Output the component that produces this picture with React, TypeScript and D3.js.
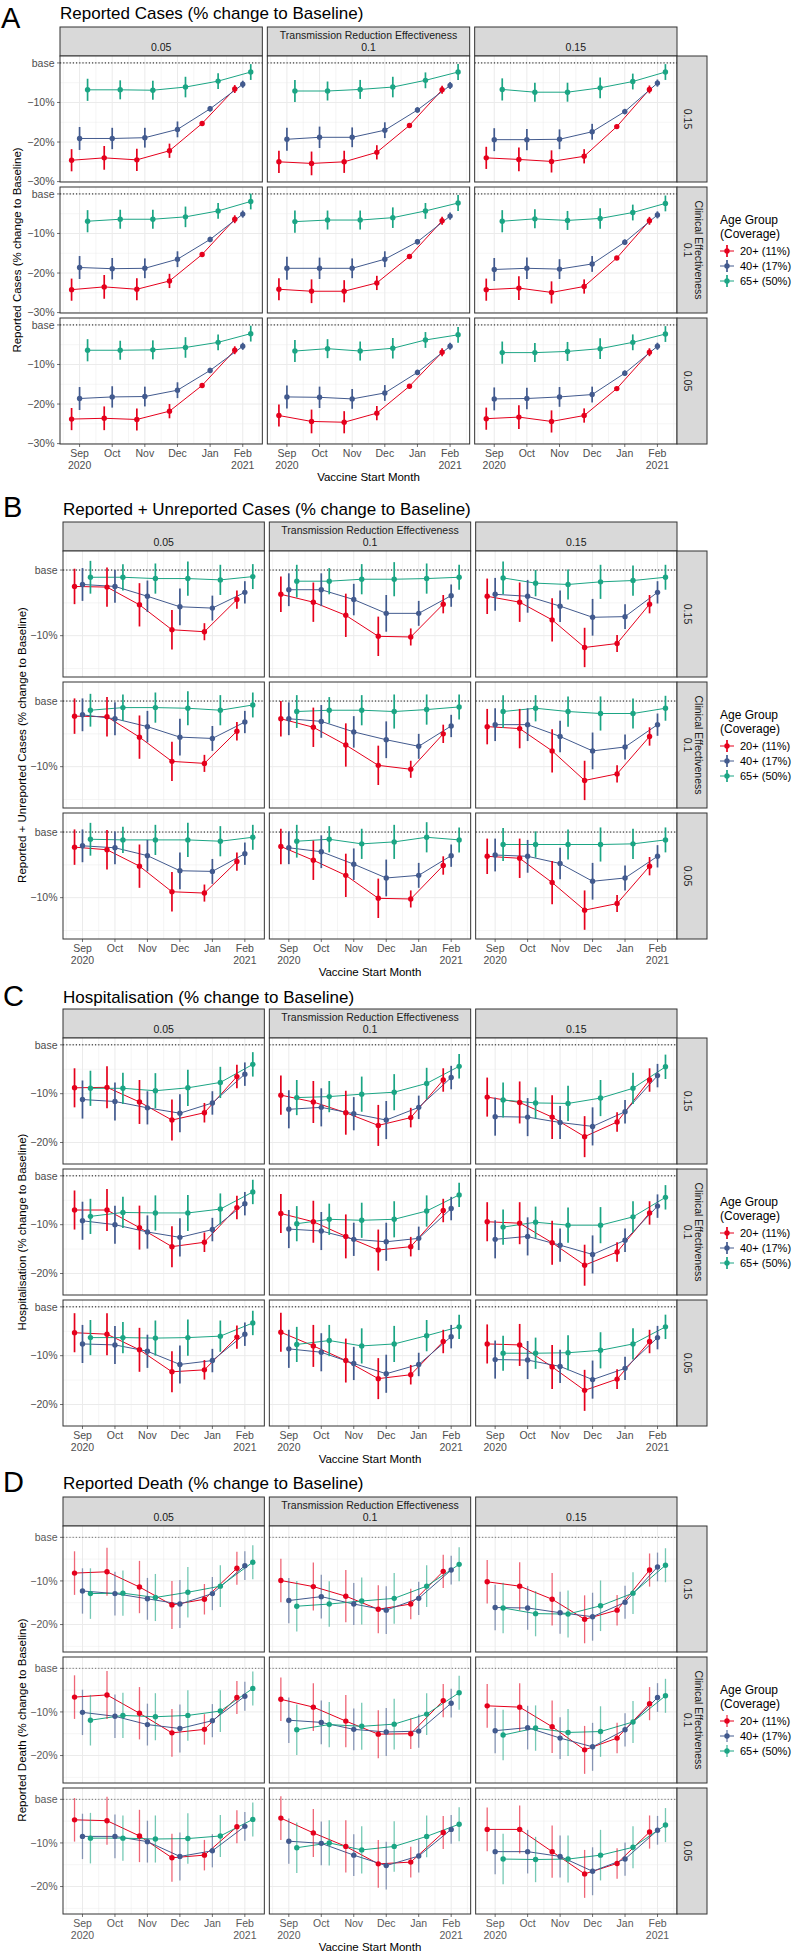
import * as d3 from "d3";

// categories
const months = ["Sep", "Oct", "Nov", "Dec", "Jan", "Feb"];
const monthYears = ["2020", "", "", "", "", "2021"];
const ageGroups = ["20+ (11%)", "40+ (17%)", "65+ (50%)"];
const groupColors = ["#E5001C", "#425A8E", "#1BA584"];
const transmissionLevels = ["0.05", "0.1", "0.15"]; // facet columns
const clinicalLevels = ["0.15", "0.1", "0.05"]; // facet rows, top to bottom

// each series: 9 facets (row-major: clinical 0.15/0.1/0.05 x transmission 0.05/0.1/0.15), 6 start months
// A: reported cases
const repCases20 = [
  [-24.6, -24.0, -24.5, -22.2, -15.3, -6.6], [-25.0, -25.4, -25.0, -22.6, -15.8, -6.8], [-24.0, -24.4, -24.9, -23.6, -16.1, -6.7],
  [-24.2, -23.5, -24.1, -22.0, -15.3, -6.4], [-24.1, -24.6, -24.6, -22.5, -15.8, -6.8], [-24.2, -23.8, -24.9, -23.4, -16.2, -6.8],
  [-23.8, -23.6, -23.9, -21.8, -15.3, -6.4], [-22.9, -24.4, -24.6, -22.3, -15.5, -6.9], [-23.7, -23.3, -24.4, -22.9, -16.1, -6.9],
];
const repCases40 = [
  [-19.1, -19.1, -18.9, -16.8, -11.6, -5.4], [-19.3, -18.8, -18.8, -17.0, -11.9, -5.7], [-19.4, -19.4, -19.3, -17.4, -12.3, -5.1],
  [-18.6, -18.9, -18.8, -16.5, -11.5, -5.1], [-18.8, -18.8, -18.8, -16.5, -12.1, -5.6], [-19.1, -18.8, -19.0, -17.7, -12.2, -5.3],
  [-18.6, -18.2, -18.1, -16.5, -11.5, -5.4], [-18.2, -18.3, -18.7, -17.2, -12.0, -5.4], [-18.7, -18.6, -18.2, -17.6, -12.2, -5.4],
];
const repCases65 = [
  [-6.8, -6.8, -6.9, -6.1, -4.6, -2.3], [-7.1, -7.1, -6.7, -6.1, -4.4, -2.3], [-6.7, -7.4, -7.4, -6.3, -4.7, -2.3],
  [-6.9, -6.4, -6.4, -5.8, -4.3, -1.9], [-7.0, -6.6, -6.6, -6.0, -4.3, -2.3], [-6.9, -6.3, -6.7, -6.2, -4.7, -2.4],
  [-6.4, -6.4, -6.3, -5.7, -4.4, -2.2], [-6.6, -6.0, -6.6, -5.9, -3.8, -2.5], [-7.0, -7.0, -6.7, -6.0, -4.4, -2.3],
];
const repCasesErr = [
  [2.8, 3.0, 2.8, 1.8, 0.5, 1.0],
  [2.9, 2.7, 2.5, 2.0, 0.7, 0.9],
  [2.8, 2.4, 2.4, 2.6, 2.0, 2.0],
];

// B: reported + unreported cases
const allCases20 = [
  [-2.5, -2.6, -5.3, -9.1, -9.4, -4.5], [-3.7, -4.9, -6.9, -10.1, -10.2, -5.2], [-4.0, -4.9, -7.6, -11.8, -11.2, -5.2],
  [-2.3, -2.4, -5.5, -9.2, -9.5, -4.6], [-2.7, -4.0, -6.7, -9.8, -10.4, -5.0], [-3.9, -4.2, -7.6, -12.1, -11.1, -5.4],
  [-2.3, -2.7, -5.2, -9.1, -9.3, -4.5], [-2.2, -4.3, -6.6, -10.1, -10.2, -5.1], [-3.7, -4.0, -7.7, -11.9, -10.9, -5.2],
];
const allCases40 = [
  [-2.2, -2.5, -4.0, -5.6, -5.8, -3.4], [-3.0, -3.0, -4.5, -6.6, -6.6, -3.9], [-3.7, -4.0, -5.5, -7.2, -7.1, -3.4],
  [-2.1, -2.7, -3.9, -5.5, -5.7, -3.2], [-2.7, -3.1, -4.7, -5.9, -6.9, -3.8], [-3.6, -3.6, -5.4, -7.6, -7.0, -3.6],
  [-2.1, -2.4, -3.6, -5.9, -6.0, -3.3], [-2.4, -3.0, -4.9, -7.0, -6.6, -3.6], [-3.5, -3.7, -4.8, -7.5, -7.0, -3.7],
];
const allCases65 = [
  [-1.1, -1.1, -1.3, -1.3, -1.5, -1.0], [-1.7, -1.7, -1.4, -1.4, -1.3, -1.1], [-1.2, -2.0, -2.2, -1.8, -1.6, -1.1],
  [-1.4, -1.0, -1.0, -1.1, -1.4, -0.6], [-1.6, -1.4, -1.4, -1.6, -1.3, -0.9], [-1.6, -1.1, -1.6, -1.9, -1.9, -1.1],
  [-1.1, -1.2, -1.2, -1.2, -1.4, -0.8], [-1.4, -1.1, -1.8, -1.5, -0.8, -1.2], [-1.9, -1.9, -1.9, -1.9, -1.8, -1.2],
];
const allCasesErr = [
  [2.7, 3.0, 3.3, 3.0, 1.3, 1.4],
  [2.5, 2.5, 2.4, 2.8, 1.9, 1.7],
  [2.5, 2.0, 2.3, 2.6, 2.3, 1.9],
];

// C: hospitalisation
const hosp20 = [
  [-8.8, -8.7, -11.7, -15.4, -13.9, -6.5], [-10.3, -11.7, -13.9, -16.5, -14.9, -7.2], [-10.7, -11.8, -14.8, -18.8, -15.8, -7.2],
  [-7.0, -7.0, -10.6, -14.5, -13.6, -6.5], [-7.7, -9.4, -12.4, -15.2, -14.5, -7.1], [-9.4, -9.7, -13.7, -18.3, -15.6, -7.6],
  [-5.3, -5.6, -8.8, -13.3, -12.9, -6.2], [-5.2, -8.0, -11.0, -14.7, -13.9, -7.1], [-7.6, -7.8, -12.3, -17.1, -14.8, -7.1],
];
const hosp40 = [
  [-11.2, -11.6, -12.9, -14.0, -11.9, -6.0], [-13.2, -12.8, -14.1, -15.4, -12.8, -6.7], [-14.7, -14.8, -15.9, -16.7, -13.7, -6.3],
  [-9.2, -10.0, -11.5, -12.6, -11.0, -5.7], [-10.9, -11.3, -13.0, -13.5, -12.8, -6.7], [-13.0, -12.4, -14.2, -16.1, -13.2, -6.2],
  [-7.6, -7.8, -9.1, -11.8, -11.0, -5.6], [-8.6, -9.3, -11.6, -13.7, -11.8, -6.1], [-10.8, -10.9, -12.2, -14.9, -12.6, -6.3],
];
const hosp65 = [
  [-8.9, -8.9, -9.4, -8.8, -7.7, -4.0], [-10.8, -10.6, -10.1, -9.7, -7.9, -4.4], [-11.3, -11.9, -12.0, -10.9, -8.9, -4.5],
  [-8.3, -7.5, -7.6, -7.6, -6.8, -3.3], [-9.8, -8.9, -9.1, -8.9, -7.2, -3.9], [-10.5, -9.5, -10.1, -10.1, -8.4, -4.4],
  [-6.3, -6.3, -6.4, -6.3, -6.0, -3.3], [-7.7, -6.9, -8.0, -7.6, -5.9, -4.1], [-9.5, -9.5, -9.4, -8.9, -7.6, -4.1],
];
const hospErr = [
  [4.0, 4.3, 4.5, 4.2, 2.0, 2.4],
  [3.9, 3.9, 3.4, 3.9, 2.4, 2.4],
  [3.6, 3.2, 3.6, 3.7, 3.2, 2.5],
];

// D: reported death
const death20 = [
  [-8.2, -7.9, -11.4, -15.5, -14.2, -7.1], [-9.9, -11.3, -13.5, -16.5, -15.3, -7.8], [-10.2, -11.2, -14.2, -18.8, -16.7, -7.5],
  [-6.6, -6.1, -10.3, -14.8, -14.0, -6.7], [-7.1, -8.9, -12.1, -15.1, -15.0, -7.4], [-8.6, -8.9, -13.4, -18.7, -16.0, -8.1],
  [-4.7, -4.9, -8.4, -13.4, -12.8, -6.3], [-4.3, -7.7, -10.8, -14.8, -14.4, -7.6], [-6.9, -6.9, -12.0, -17.1, -14.7, -7.5],
];
const death40 = [
  [-12.3, -12.9, -14.1, -15.3, -12.9, -6.5], [-14.5, -13.6, -15.3, -16.7, -14.0, -7.5], [-16.1, -16.2, -17.3, -18.2, -14.9, -6.8],
  [-10.1, -11.0, -12.9, -13.8, -12.0, -6.4], [-11.9, -12.4, -14.0, -14.6, -14.4, -8.0], [-14.3, -13.6, -16.0, -18.0, -14.1, -6.7],
  [-8.5, -8.5, -9.7, -13.1, -11.8, -6.2], [-9.6, -10.1, -12.8, -15.2, -13.0, -6.9], [-12.0, -12.0, -13.1, -16.5, -13.7, -7.1],
];
const death65 = [
  [-12.9, -12.8, -13.8, -12.6, -11.2, -5.7], [-15.8, -15.3, -14.6, -14.0, -11.2, -6.2], [-16.2, -17.5, -17.6, -15.7, -12.8, -6.4],
  [-11.9, -10.8, -11.1, -10.8, -9.8, -4.6], [-14.1, -12.9, -13.3, -12.8, -10.5, -5.6], [-15.3, -13.7, -14.7, -14.5, -12.3, -6.3],
  [-8.9, -8.9, -9.1, -9.0, -8.4, -4.6], [-11.1, -10.0, -11.6, -10.8, -8.5, -5.7], [-13.7, -13.8, -13.7, -12.8, -11.0, -5.9],
];
const deathErr = [
  [5.0, 5.5, 6.0, 5.5, 3.5, 3.8],
  [5.2, 5.0, 4.8, 5.5, 3.8, 3.3],
  [5.8, 5.2, 5.4, 5.8, 4.8, 3.9],
];

const FONT = "'Liberation Sans', Arial, Helvetica, sans-serif";
const RIGHT = 677;
const STRIP_H = 29;
const ROW_H = 126;
const GAP = 5;
const DODGE = [-0.245, 0, 0.245];
const X_DOMAIN = [-0.6, 5.6];

const panels = [
  {
    letter: "A", title: "Reported Cases (% change to Baseline)", yTitle: "Reported Cases (% change to Baseline)",
    series: [repCases20, repCases40, repCases65], err: repCasesErr,
    yDomain: [-30.1, 1.75], yTicks: [0, -10, -20, -30], yMinor: [-5, -15, -25],
    top: 27, left: 60, letterX: 1, letterY: 28, titleY: 19, yTitleX: 17, faded: false,
  },
  {
    letter: "B", title: "Reported + Unreported Cases (% change to Baseline)", yTitle: "Reported + Unreported Cases (% change to Baseline)",
    series: [allCases20, allCases40, allCases65], err: allCasesErr,
    yDomain: [-16.3, 2.9], yTicks: [0, -10], yMinor: [-5, -15],
    top: 522, left: 63, letterX: 3, letterY: 517, titleY: 514.5, yTitleX: 22, faded: false,
  },
  {
    letter: "C", title: "Hospitalisation (% change to Baseline)", yTitle: "Hospitalisation (% change to Baseline)",
    series: [hosp20, hosp40, hosp65], err: hospErr,
    yDomain: [-24.4, 1.4], yTicks: [0, -10, -20], yMinor: [-5, -15],
    top: 1009, left: 63, letterX: 3, letterY: 1006, titleY: 1002.5, yTitleX: 22, faded: false,
  },
  {
    letter: "D", title: "Reported Death (% change to Baseline)", yTitle: "Reported Death (% change to Baseline)",
    series: [death20, death40, death65], err: deathErr,
    yDomain: [-26.3, 2.6], yTicks: [0, -10, -20], yMinor: [-5, -15, -25],
    top: 1497, left: 63, letterX: 3, letterY: 1492, titleY: 1488.5, yTitleX: 22, faded: true,
  },
];

const tickLabel = (v: number) => (v === 0 ? "base" : `\u2212${Math.abs(v)}%`);

function Facet({ p, row, col, x0, y0, w }: any) {
  const x = d3.scaleLinear().domain(X_DOMAIN).range([x0, x0 + w]);
  const y = d3.scaleLinear().domain(p.yDomain).range([y0 + ROW_H, y0]);
  const idx = row * 3 + col;
  const majorX = d3.range(0, 6);
  const minorX = d3.range(-0.5, 6, 1);
  const tickFill = p.faded ? "#5A5A5A" : "#4D4D4D";
  return (
    <g>
      <rect x={x0} y={y0} width={w} height={ROW_H} fill="#fff" />
      {p.yMinor.map((v: number) => (
        <line key={"ym" + v} x1={x0} x2={x0 + w} y1={y(v)} y2={y(v)} stroke="#EBEBEB" strokeWidth={0.5} />
      ))}
      {minorX.map((v: number) => (
        <line key={"xm" + v} x1={x(v)} x2={x(v)} y1={y0} y2={y0 + ROW_H} stroke="#EBEBEB" strokeWidth={0.5} />
      ))}
      {p.yTicks.map((v: number) => (
        <line key={"yM" + v} x1={x0} x2={x0 + w} y1={y(v)} y2={y(v)} stroke="#EBEBEB" strokeWidth={1} />
      ))}
      {majorX.map((v: number) => (
        <line key={"xM" + v} x1={x(v)} x2={x(v)} y1={y0} y2={y0 + ROW_H} stroke="#EBEBEB" strokeWidth={1} />
      ))}
      <line x1={x0} x2={x0 + w} y1={y(0)} y2={y(0)} stroke={p.faded ? "#555" : "#111"}
        strokeWidth={p.faded ? 0.8 : 1} strokeDasharray="1.2,2" />
      {p.series.map((s: number[][], g: number) => {
        const line = d3.line<number>().x((_, i) => x(i + DODGE[g])).y((v) => y(v));
        return <path key={"l" + g} d={line(s[idx]) || ""} fill="none" stroke={groupColors[g]} strokeWidth={1} />;
      })}
      {p.series.map((s: number[][], g: number) => (
        <g key={"p" + g}>
          {s[idx].map((v: number, i: number) => {
            const e = p.err[g][i];
            const cx = x(i + DODGE[g]);
            return (
              <g key={i}>
                <line x1={cx} x2={cx} y1={y(v + e)} y2={y(v - e)} stroke={groupColors[g]}
                  strokeWidth={p.faded ? 1.3 : 1.7} strokeOpacity={p.faded ? 0.6 : 1} />
                <circle cx={cx} cy={y(v)} r={2.7} fill={groupColors[g]} />
              </g>
            );
          })}
        </g>
      ))}
      <rect x={x0} y={y0} width={w} height={ROW_H} fill="none" stroke="#333" strokeWidth={1} />
      {col === 0 &&
        p.yTicks.map((v: number) => (
          <g key={"yt" + v}>
            <line x1={x0 - 3} x2={x0} y1={y(v)} y2={y(v)} stroke="#333" strokeWidth={0.7} />
            <text x={x0 - 5.5} y={y(v)} dy="0.35em" textAnchor="end" fontSize={10.5} fill={tickFill}>
              {tickLabel(v)}
            </text>
          </g>
        ))}
      {row === 2 &&
        majorX.map((v: number) => (
          <g key={"xt" + v}>
            <line x1={x(v)} x2={x(v)} y1={y0 + ROW_H} y2={y0 + ROW_H + 3} stroke="#333" strokeWidth={0.7} />
            <text x={x(v)} y={y0 + ROW_H + 13} textAnchor="middle" fontSize={10.5} fill={tickFill}>
              {months[v]}
            </text>
            {monthYears[v] && (
              <text x={x(v)} y={y0 + ROW_H + 25} textAnchor="middle" fontSize={10.5} fill={tickFill}>
                {monthYears[v]}
              </text>
            )}
          </g>
        ))}
    </g>
  );
}

function PanelBlock({ p }: any) {
  const w = (RIGHT - p.left - 2 * GAP) / 3;
  const rowsTop = p.top + STRIP_H;
  const bottom = rowsTop + 3 * ROW_H + 2 * GAP;
  const cols = [0, 1, 2];
  const rows = [0, 1, 2];
  const legendTop = p.top + 197;
  return (
    <g>
      <text x={p.letterX} y={p.letterY} fontSize={29} fill="#000">{p.letter}</text>
      <text x={p.left} y={p.titleY} fontSize={17} fill="#000">{p.title}</text>
      {cols.map((c) => {
        const sx = p.left + c * (w + GAP);
        return (
          <g key={"st" + c}>
            <rect x={sx} y={p.top} width={w} height={STRIP_H} fill="#D9D9D9" stroke="#333" strokeWidth={1} />
            {c === 1 && (
              <text x={sx + w / 2} y={p.top + 12} textAnchor="middle" fontSize={10.5} fill="#1A1A1A">
                Transmission Reduction Effectiveness
              </text>
            )}
            <text x={sx + w / 2} y={p.top + 24} textAnchor="middle" fontSize={10.5} fill="#1A1A1A">
              {transmissionLevels[c]}
            </text>
          </g>
        );
      })}
      {rows.map((r) =>
        cols.map((c) => (
          <Facet key={r + "-" + c} p={p} row={r} col={c}
            x0={p.left + c * (w + GAP)} y0={rowsTop + r * (ROW_H + GAP)} w={w} />
        ))
      )}
      {rows.map((r) => {
        const sy = rowsTop + r * (ROW_H + GAP);
        const cy = sy + ROW_H / 2;
        return (
          <g key={"sr" + r}>
            <rect x={RIGHT} y={sy} width={STRIP_H + 1} height={ROW_H} fill="#D9D9D9" stroke="#333" strokeWidth={1} />
            {r === 1 && (
              <text transform={`translate(${RIGHT + 18},${cy}) rotate(90)`} textAnchor="middle" fontSize={10.5} fill="#1A1A1A">
                Clinical Effectiveness
              </text>
            )}
            <text transform={`translate(${RIGHT + 6.5},${cy}) rotate(90)`} textAnchor="middle" fontSize={10.5} fill="#1A1A1A">
              {clinicalLevels[r]}
            </text>
          </g>
        );
      })}
      <text transform={`translate(${p.yTitleX + 4},${(rowsTop + bottom) / 2}) rotate(-90)`} textAnchor="middle" fontSize={11.5} fill="#000">
        {p.yTitle}
      </text>
      <text x={(p.left + RIGHT) / 2} y={bottom + 37} textAnchor="middle" fontSize={11.5} fill="#000">
        Vaccine Start Month
      </text>
      <text x={720} y={legendTop} fontSize={12} fill="#000">Age Group</text>
      <text x={720} y={legendTop + 13.5} fontSize={12} fill="#000">(Coverage)</text>
      {ageGroups.map((a, g) => {
        const ly = p.top + 224 + g * 15;
        return (
          <g key={a}>
            <line x1={720} x2={734} y1={ly} y2={ly} stroke={groupColors[g]} strokeWidth={1} />
            <line x1={727} x2={727} y1={ly - 6} y2={ly + 6} stroke={groupColors[g]} strokeWidth={1.7} strokeOpacity={p.faded ? 0.6 : 1} />
            <circle cx={727} cy={ly} r={2.7} fill={groupColors[g]} />
            <text x={740} y={ly} dy="0.35em" fontSize={11} fill="#000">{a}</text>
          </g>
        );
      })}
    </g>
  );
}

export default function App() {
  return (
    <svg width={797} height={1954} style={{ position: "absolute", left: 0, top: 0, background: "#fff" }}
      fontFamily={FONT}>
      <rect x={0} y={0} width={797} height={1954} fill="#fff" />
      {panels.map((p) => (
        <PanelBlock key={p.letter} p={p} />
      ))}
    </svg>
  );
}
